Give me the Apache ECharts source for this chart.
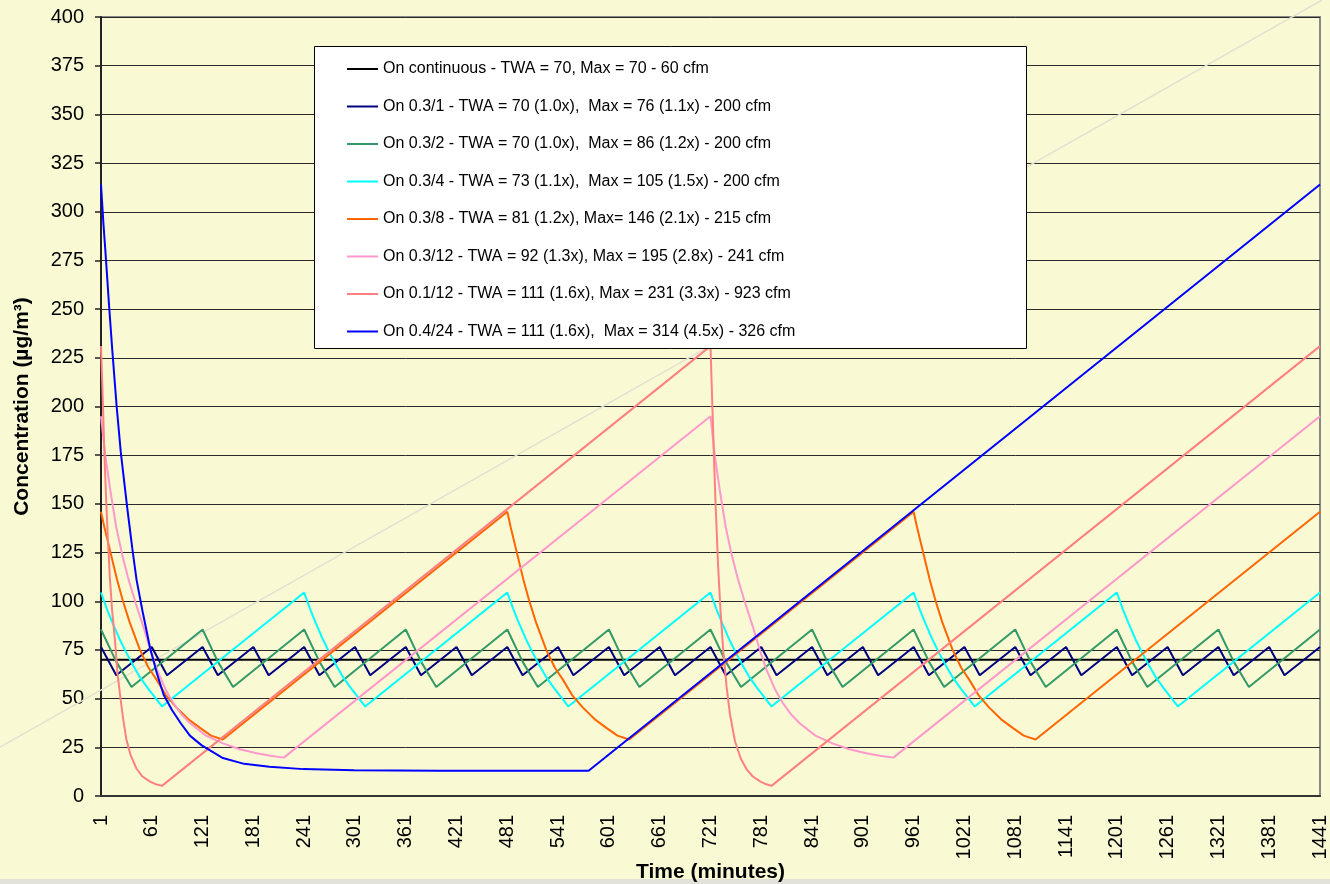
<!DOCTYPE html>
<html>
<head>
<meta charset="utf-8">
<title>Concentration vs time</title>
<script src="https://cdn.jsdelivr.net/npm/echarts@6.0.0/dist/echarts.min.js"></script>
<style>
  html, body { margin: 0; padding: 0; background: #F9FAD4; }
  #chart { width: 1330px; height: 884px; }
</style>
</head>
<body>
<div id="chart"></div>
<script>
// x tick labels (minutes)
const minuteTicks = [1, 61, 121, 181, 241, 301, 361, 421, 481, 541, 601, 661, 721,
  781, 841, 901, 961, 1021, 1081, 1141, 1201, 1261, 1321, 1381, 1441];

const seriesNames = [
  'On continuous - TWA = 70, Max = 70 - 60 cfm',
  'On 0.3/1 - TWA = 70 (1.0x),  Max = 76 (1.1x) - 200 cfm',
  'On 0.3/2 - TWA = 70 (1.0x),  Max = 86 (1.2x) - 200 cfm',
  'On 0.3/4 - TWA = 73 (1.1x),  Max = 105 (1.5x) - 200 cfm',
  'On 0.3/8 - TWA = 81 (1.2x), Max= 146 (2.1x) - 215 cfm',
  'On 0.3/12 - TWA = 92 (1.3x), Max = 195 (2.8x) - 241 cfm',
  'On 0.1/12 - TWA = 111 (1.6x), Max = 231 (3.3x) - 923 cfm',
  'On 0.4/24 - TWA = 111 (1.6x),  Max = 314 (4.5x) - 326 cfm'
];

// [minute, concentration]
const onContinuous = [[1, 70], [1441, 70]];

const on03_1 = [[1, 76.5], [19, 62], [61, 76.5], [79, 62], [121, 76.5], [139, 62], [181, 76.5], [199, 62],
  [241, 76.5], [259, 62], [301, 76.5], [319, 62], [361, 76.5], [379, 62], [421, 76.5], [439, 62],
  [481, 76.5], [499, 62], [541, 76.5], [559, 62], [601, 76.5], [619, 62], [661, 76.5], [679, 62],
  [721, 76.5], [739, 62], [781, 76.5], [799, 62], [841, 76.5], [859, 62], [901, 76.5], [919, 62],
  [961, 76.5], [979, 62], [1021, 76.5], [1039, 62], [1081, 76.5], [1099, 62], [1141, 76.5], [1159, 62],
  [1201, 76.5], [1219, 62], [1261, 76.5], [1279, 62], [1321, 76.5], [1339, 62], [1381, 76.5], [1399, 62],
  [1441, 76.5]];

const on03_2 = [[1, 85.5], [19, 69], [37, 56], [121, 85.5], [139, 69], [157, 56], [241, 85.5], [259, 69], [277, 56],
  [361, 85.5], [379, 69], [397, 56], [481, 85.5], [499, 69], [517, 56], [601, 85.5], [619, 69], [637, 56],
  [721, 85.5], [739, 69], [757, 56], [841, 85.5], [859, 69], [877, 56], [961, 85.5], [979, 69], [997, 56],
  [1081, 85.5], [1099, 69], [1117, 56], [1201, 85.5], [1219, 69], [1237, 56], [1321, 85.5], [1339, 69], [1357, 56],
  [1441, 85.5]];

const on03_4 = [
  [1, 104.5], [8, 96], [15, 88.5], [23, 80.5], [31, 73.5], [39, 67], [47, 61], [56, 55.5], [65, 50.5], [73, 46],
  [241, 104.5], [248, 96], [255, 88.5], [263, 80.5], [271, 73.5], [279, 67], [287, 61], [296, 55.5], [305, 50.5], [313, 46],
  [481, 104.5], [488, 96], [495, 88.5], [503, 80.5], [511, 73.5], [519, 67], [527, 61], [536, 55.5], [545, 50.5], [553, 46],
  [721, 104.5], [728, 96], [735, 88.5], [743, 80.5], [751, 73.5], [759, 67], [767, 61], [776, 55.5], [785, 50.5], [793, 46],
  [961, 104.5], [968, 96], [975, 88.5], [983, 80.5], [991, 73.5], [999, 67], [1007, 61], [1016, 55.5], [1025, 50.5], [1033, 46],
  [1201, 104.5], [1208, 96], [1215, 88.5], [1223, 80.5], [1231, 73.5], [1239, 67], [1247, 61], [1256, 55.5], [1265, 50.5], [1273, 46],
  [1441, 104.5]];

const on03_8 = [
  [1, 146], [5, 138], [10, 129], [15, 120], [20, 111], [27, 100], [35, 89], [47, 75], [57, 66], [67, 59.5],
  [78, 51.5], [90, 45.5], [104, 39.5], [118, 35], [131, 31], [145, 29],
  [481, 146], [485, 138], [490, 129], [495, 120], [500, 111], [507, 100], [515, 89], [527, 75], [537, 66], [547, 59.5],
  [558, 51.5], [570, 45.5], [584, 39.5], [598, 35], [611, 31], [625, 29],
  [961, 146], [965, 138], [970, 129], [975, 120], [980, 111], [987, 100], [995, 89], [1007, 75], [1017, 66], [1027, 59.5],
  [1038, 51.5], [1050, 45.5], [1064, 39.5], [1078, 35], [1091, 31], [1105, 29],
  [1441, 146]];

const on03_12 = [
  [1, 195], [6, 175], [12, 157], [19, 138], [26, 124], [33, 112], [42, 99], [51, 87], [60, 74], [67, 65],
  [77, 55], [86, 48], [96, 42], [106, 37.5], [125, 31], [145, 27], [165, 24], [185, 22], [201, 20.7], [217, 19.7],
  [721, 195], [726, 175], [732, 157], [739, 138], [746, 124], [753, 112], [762, 99], [771, 87], [780, 74], [787, 65],
  [797, 55], [806, 48], [816, 42], [826, 37.5], [845, 31], [865, 27], [885, 24], [905, 22], [921, 20.7], [937, 19.7],
  [1441, 195]];

const on01_12 = [
  [1, 231], [3, 205], [5, 176], [7, 153], [9, 133], [11.5, 112], [14, 96], [17.5, 80], [20.5, 63], [23.5, 52],
  [27, 40], [31, 29], [36, 21], [43, 14], [50, 10], [59, 7.4], [66, 6], [73, 5.2],
  [721, 231], [723, 203], [725, 175], [727, 150], [730, 118], [733, 94], [736, 75], [740, 56], [744, 42],
  [750, 28], [757, 19], [764, 13.5], [771, 10], [780, 7.4], [787, 6], [793, 5.2],
  [1441, 231]];

const on04_24 = [
  [1, 314], [4, 293], [6, 281], [8.5, 265], [10.5, 252], [14.5, 228], [19.5, 200], [24.5, 176], [32, 148],
  [38, 127], [43, 111], [50, 95], [59, 76], [67, 63], [75, 52], [85, 44], [95, 37.5], [106, 31], [120, 26],
  [145, 19.5], [170, 16.5], [200, 15], [240, 13.8], [300, 13.2], [400, 13], [577, 13],
  [1441, 314]];

const seriesData = [onContinuous, on03_1, on03_2, on03_4, on03_8, on03_12, on01_12, on04_24];
const seriesColors = ['#000000', '#000080', '#339966', '#00FFFF', '#FF6600', '#FF99CC', '#FF8080', '#0000FF'];

const font = "'Liberation Sans', Arial, sans-serif";

let myChart = echarts.init(document.getElementById('chart'));
let option = {
  backgroundColor: '#F9FAD4',
  animation: false,
  color: seriesColors,
  grid: {
    left: 101,
    right: 10,
    top: 17,
    bottom: 88,
    outerBoundsMode: 'none', // keep the plot area fixed
    show: true,
    borderColor: '#8a8a8a',
    borderWidth: 2,
    backgroundColor: 'transparent'
  },
  graphic: [
    { // faint diagonal line from the slide background
      type: 'line',
      z: 1,
      silent: true,
      shape: { x1: 0, y1: 747, x2: 1322, y2: 0 },
      style: { stroke: '#E3E1D0', lineWidth: 1.5 }
    },
    { // grey strip at the very bottom
      type: 'rect',
      z: -5,
      silent: true,
      shape: { x: 0, y: 879, width: 1330, height: 5 },
      style: { fill: '#E2E2DA' }
    },
    { // legend box
      type: 'rect',
      z: 10,
      silent: true,
      shape: { x: 314.5, y: 46.5, width: 712, height: 302 },
      style: { fill: '#FFFFFF', stroke: '#000000', lineWidth: 1 }
    }
  ],
  legend: {
    orient: 'vertical',
    left: 347,
    top: 59,
    padding: 0,
    z: 20,
    icon: 'rect',
    itemWidth: 31,
    itemHeight: 2,
    itemGap: 17.5,
    selectedMode: false,
    data: seriesNames,
    textStyle: {
      fontFamily: font,
      fontSize: 16,
      lineHeight: 20,
      color: '#000'
    }
  },
  xAxis: {
    type: 'value',
    min: 1,
    max: 1441,
    z: 3,
    name: 'Time (minutes)',
    nameLocation: 'middle',
    nameGap: 66,
    nameMoveOverlap: false,
    nameTextStyle: { fontFamily: font, fontWeight: 'bold', fontSize: 21, color: '#000' },
    axisLine: { lineStyle: { color: '#333', width: 2 } },
    axisTick: { show: false },
    splitLine: { show: false },
    axisLabel: {
      customValues: minuteTicks,
      formatter: function (v) { return String(v); },
      rotate: 90,
      margin: 19,
      fontFamily: font,
      fontSize: 20,
      color: '#000'
    }
  },
  yAxis: {
    type: 'value',
    min: 0,
    max: 400,
    interval: 25,
    name: 'Concentration (µg/m³)',
    nameLocation: 'middle',
    nameGap: 68,
    nameTextStyle: { fontFamily: font, fontWeight: 'bold', fontSize: 21, color: '#000' },
    axisLine: { show: true, lineStyle: { color: '#222', width: 2 } },
    axisTick: { show: true, length: 6, lineStyle: { color: '#222', width: 1.5 } },
    splitLine: { show: true, lineStyle: { color: '#2a2a2a', width: 1 } },
    axisLabel: { margin: 17, fontFamily: font, fontSize: 20, color: '#000' }
  },
  series: seriesData.map(function (d, i) {
    return {
      name: seriesNames[i],
      type: 'line',
      data: d,
      symbol: 'none',
      smooth: false,
      lineStyle: { width: 2, color: seriesColors[i] },
      itemStyle: { color: seriesColors[i] }
    };
  })
};
myChart.setOption(option);
</script>
</body>
</html>
